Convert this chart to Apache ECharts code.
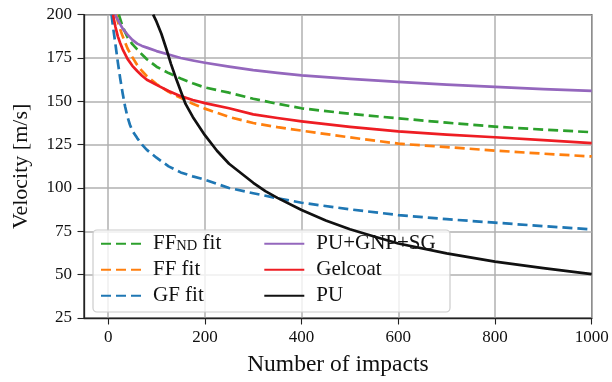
<!DOCTYPE html>
<html>
<head>
<meta charset="utf-8">
<script src="https://cdn.jsdelivr.net/npm/echarts@6/dist/echarts.min.js"></script>
<style>
html,body{margin:0;padding:0;background:#fff;}
#c{width:612px;height:382px;}
</style>
</head>
<body>
<div id="c"></div>
<script>
// ---- data ----
const xTicks = [0, 200, 400, 600, 800, 1000];

const ffndN = [22, 30, 40, 50, 60, 70, 80, 100, 125, 150, 175, 200, 250, 300, 350, 400, 500, 600, 700, 800, 900, 1000];
const ffndV = [200, 193, 187, 183, 180, 177, 174.3, 170, 166.3, 163.2, 160.4, 158, 155, 151.5, 148.6, 146, 142.8, 140.2, 137.7, 135.4, 133.7, 132.2];

const ffN = [17, 20, 25, 30, 40, 50, 60, 70, 80, 100, 125, 150, 175, 200, 250, 300, 350, 400, 500, 600, 700, 800, 900, 1000];
const ffV = [200, 196, 191.5, 187.5, 180.5, 175.5, 171, 167.5, 164.5, 160, 155.5, 152, 148.6, 145.8, 141, 137.5, 135.1, 133.1, 129.2, 125.6, 123.6, 121.6, 119.8, 118.2];

const gfN = [7, 10, 15, 20, 25, 30, 35, 40, 45, 50, 60, 70, 80, 100, 125, 150, 175, 200, 250, 300, 350, 400, 500, 600, 700, 800, 900, 1000];
const gfV = [200, 193, 183, 172.5, 163, 154.5, 147, 141, 136.5, 133, 128.8, 125, 122, 117.5, 112.5, 109, 106.7, 104.8, 100, 97, 94.1, 91.5, 87.7, 84.4, 82, 80, 78, 76.1];

const purN = [14, 20, 30, 40, 50, 60, 70, 80, 100, 125, 150, 175, 200, 250, 300, 350, 400, 500, 600, 700, 800, 900, 1000];
const purV = [200, 197, 192, 188.5, 185.5, 183.3, 182, 181, 179, 177, 175, 173.6, 172.3, 170, 168, 166.4, 165, 163, 161.2, 159.7, 158.3, 157.1, 156];

const redN = [10, 15, 20, 25, 30, 40, 50, 60, 70, 80, 90, 100, 125, 150, 175, 200, 250, 300, 350, 400, 500, 600, 700, 800, 900, 1000];
const redV = [200, 193, 187.5, 183.5, 180, 174.5, 170.5, 167.5, 164.8, 162.5, 161, 159.5, 156, 153, 150.8, 149, 146, 142.5, 140.4, 138.5, 135.3, 132.7, 130.8, 129.3, 127.6, 125.9];

const puN = [93, 100, 110, 120, 130, 140, 150, 160, 175, 200, 225, 250, 275, 300, 325, 350, 400, 450, 500, 550, 600, 700, 800, 900, 1000];
const puV = [200, 196, 189, 180.5, 171.5, 163.5, 156, 148.5, 141, 130.5, 121.5, 114, 108.5, 103, 98.2, 94.3, 87.3, 81.3, 76.2, 72, 68, 62.3, 57.5, 53.8, 50.3];

const names = ['FF_ND fit', 'FF fit', 'GF fit', 'PU+GNP+SG', 'Gelcoat', 'PU'];
// ------------------------------------------------

const pair = (n, v) => n.map((x, i) => [x, v[i]]);
const FONT = 'Liberation Serif';

function mk(name, n, v, color, dashed) {
  return {
    name: name,
    type: 'line',
    data: pair(n, v),
    symbol: 'none',
    smooth: false,
    clip: true,
    lineStyle: { color: color, width: 2.7, type: dashed ? [10, 5] : 'solid', cap: 'butt', join: 'round' },
    itemStyle: { color: color },
    emphasis: { disabled: true }
  };
}

const legendText = {
  fontFamily: FONT, fontSize: 21, color: '#111', lineHeight: 20, padding: [0, 0, 0, 7],
  rich: {
    n: { fontFamily: FONT, fontSize: 21, lineHeight: 20, color: '#111' },
    s: { fontFamily: FONT, fontSize: 14.5, lineHeight: 12, verticalAlign: 'bottom', color: '#111' }
  }
};
const legendFmt = function (name) {
  if (name === 'FF_ND fit') return '{n|FF}{s|ND}{n| fit}';
  return '{n|' + name + '}';
};
const legendBase = {
  orient: 'vertical', top: 233.3, padding: 0,
  itemWidth: 40, itemHeight: 14, itemGap: 5, selectedMode: false,
  itemStyle: { color: 'rgba(0,0,0,0)', borderColor: 'rgba(0,0,0,0)', borderWidth: 0 },
  textStyle: legendText, formatter: legendFmt
};

const chart = echarts.init(document.getElementById('c'), null, { renderer: 'canvas' });
chart.setOption({
  animation: false,
  backgroundColor: '#fff',
  grid: { left: 84, right: 20.3, top: 14.7, bottom: 61.3, show: true, borderColor: '#222', borderWidth: 1.3, backgroundColor: 'transparent' },
  xAxis: {
    type: 'value', min: -50, max: 1000,
    name: 'Number of impacts', nameLocation: 'middle', nameGap: 35,
    nameTextStyle: { fontFamily: FONT, fontSize: 23.5, color: '#111' },
    axisLine: { show: true, onZero: false, lineStyle: { color: '#222', width: 1.3 } },
    axisTick: { show: true, length: 6.5, lineStyle: { color: '#222', width: 1.1 }, customValues: xTicks },
    axisLabel: { fontFamily: FONT, fontSize: 17, color: '#111', margin: 11, customValues: xTicks, formatter: v => String(v) },
    splitLine: { show: true, lineStyle: { color: '#b0b0b0', width: 1.5 } }
  },
  yAxis: {
    type: 'value', min: 25, max: 200, interval: 25,
    name: 'Velocity [m/s]', nameLocation: 'middle', nameGap: 52,
    nameTextStyle: { fontFamily: FONT, fontSize: 22, color: '#111' },
    axisLine: { show: true, onZero: false, lineStyle: { color: '#222', width: 1.3 } },
    axisTick: { show: true, length: 6.5, lineStyle: { color: '#222', width: 1.1 } },
    axisLabel: { fontFamily: FONT, fontSize: 17, color: '#111', margin: 12, formatter: v => String(v) },
    splitLine: { show: true, lineStyle: { color: '#b0b0b0', width: 1.5 } }
  },
  legend: [
    Object.assign({}, legendBase, { data: names.slice(0, 3), left: 100 }),
    Object.assign({}, legendBase, { data: names.slice(3), left: 263.3 })
  ],
  graphic: [{
    type: 'rect', z: 3,
    shape: { x: 93, y: 230, width: 357, height: 82, r: 4 },
    style: { fill: 'rgba(255,255,255,0.8)', stroke: '#cccccc', lineWidth: 1.2 }
  }],
  series: [
    mk(names[0], ffndN, ffndV, '#2ca02c', true),
    mk(names[1], ffN, ffV, '#ff7f0e', true),
    mk(names[2], gfN, gfV, '#1f77b4', true),
    mk(names[3], purN, purV, '#9467bd', false),
    mk(names[4], redN, redV, '#ee1d23', false),
    mk(names[5], puN, puV, '#111111', false)
  ]
});
</script>
</body>
</html>
